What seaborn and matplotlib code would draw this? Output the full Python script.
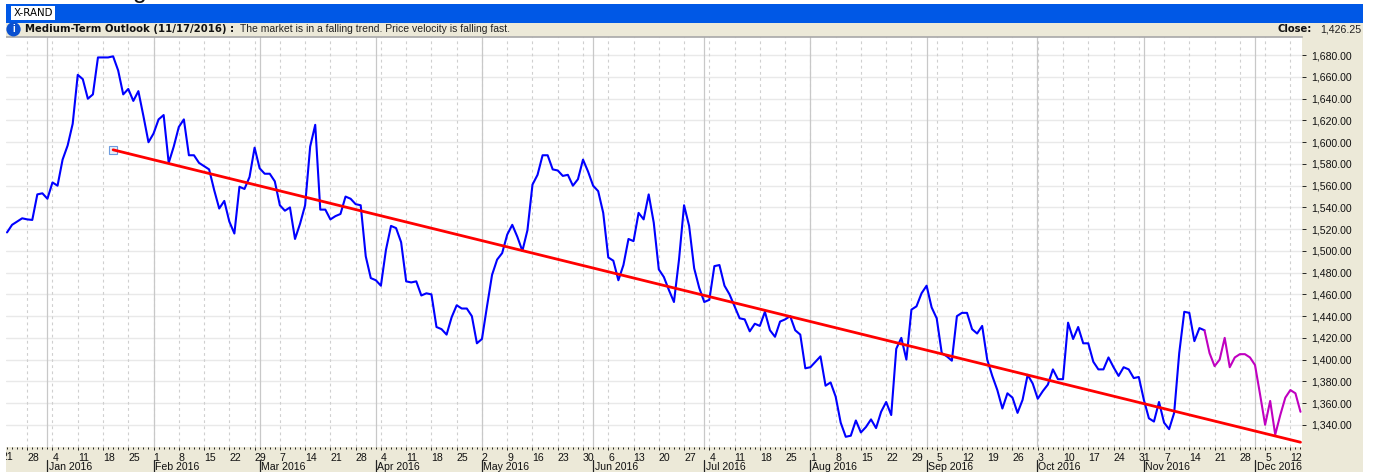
import numpy as np
import pandas as pd
import matplotlib
matplotlib.use('Agg')
import matplotlib.pyplot as plt
import seaborn as sns
from matplotlib.patches import Rectangle

# closes per session, session 0 = Mon 4 Jan 2016
first_session = -9
blue_close = [
    1517, 1524, 1527, 1530, 1529, 1528.5, 1552, 1553, 1548,
    1563, 1560, 1584, 1597, 1617, 1662, 1658, 1640, 1644, 1678,
    1678, 1678, 1679, 1666, 1644, 1649, 1638, 1647, 1624, 1600,
    1608, 1621, 1625, 1581, 1596, 1614, 1621, 1588, 1588, 1581,
    1578, 1575, 1556, 1539, 1546, 1527, 1516, 1559, 1557, 1568,
    1595, 1576, 1571, 1571, 1564, 1542, 1537, 1540, 1511, 1525,
    1542, 1596, 1616, 1538, 1538, 1529, 1532, 1534, 1550, 1548,
    1543, 1542, 1495, 1475, 1473, 1468, 1501, 1523, 1521, 1508,
    1472, 1471, 1472, 1459, 1461, 1460, 1430, 1428, 1423, 1439,
    1450, 1447, 1447, 1440, 1415, 1419, 1449, 1478, 1492, 1498,
    1515, 1524, 1513, 1500, 1519, 1561, 1570, 1588, 1588, 1575,
    1574, 1569, 1570, 1560, 1566, 1584, 1573, 1560, 1555, 1535,
    1494, 1491, 1473, 1487, 1511, 1509, 1535, 1529, 1552, 1526,
    1483, 1476, 1464, 1453, 1492, 1542, 1523, 1484, 1466, 1453,
    1455, 1486, 1487, 1468, 1460, 1449, 1438, 1437, 1426, 1433,
    1431, 1444, 1427, 1421, 1435, 1437, 1440, 1427, 1423, 1392,
    1393, 1398, 1403, 1376, 1379, 1366, 1342, 1329, 1330, 1344,
    1333, 1338, 1345, 1337, 1352, 1361, 1349, 1410, 1420, 1400,
    1446, 1449, 1461, 1468, 1448, 1438, 1406, 1403, 1399, 1440,
    1443, 1443, 1428, 1424, 1431, 1400, 1385, 1372, 1355, 1369,
    1365, 1351, 1363, 1386, 1378, 1364, 1371, 1377, 1391, 1382,
    1382, 1434, 1419, 1430, 1415, 1415, 1398, 1391, 1391, 1402,
    1393, 1385, 1393, 1391, 1383, 1384, 1363, 1346, 1343, 1361,
    1342, 1336, 1351, 1406, 1444, 1443, 1417, 1429, 1427,
]
magenta_close = [
    1427, 1406, 1394, 1400, 1420, 1393, 1402, 1405, 1405, 1402,
    1395, 1368, 1340, 1362, 1331, 1349, 1365, 1372, 1369, 1352,
]
trend_sessions = [12, 247]
trend_values = [1593, 1324]

price_ticks = list(range(1340, 1681, 20))
week_labels = ['28', '4', '11', '18', '25', '1', '8', '15', '22', '29', '7', '14', '21', '28',
               '4', '11', '18', '25', '2', '9', '16', '23', '30', '6', '13', '20', '27',
               '4', '11', '18', '25', '1', '8', '15', '22', '29', '5', '12', '19', '26',
               '3', '10', '17', '24', '31', '7', '14', '21', '28', '5', '12']
month_labels = ['Jan 2016', 'Feb 2016', 'Mar 2016', 'Apr 2016', 'May 2016', 'Jun 2016',
                'Jul 2016', 'Aug 2016', 'Sep 2016', 'Oct 2016', 'Nov 2016', 'Dec 2016']
month_sessions = [-1, 20, 41, 64, 85, 107, 129, 150, 173, 194.8, 216, 238]

W, H = 1375, 472
TAN = '#ECE9D8'

sns.set_theme(style='white')
plt.rcParams['font.family'] = ['Liberation Sans', 'DejaVu Sans']


def fx(px):
    return px / W


def fy(py):
    return 1 - py / H


fig = plt.figure(figsize=(W / 100, H / 100), dpi=100, facecolor='white')

# window chrome
fig.add_artist(Rectangle((fx(6), fy(472)), 1357 / W, 450 / H, transform=fig.transFigure,
                         fc=TAN, ec='none', zorder=-2))
fig.add_artist(Rectangle((fx(6), fy(22.5)), 1357 / W, 18.5 / H, transform=fig.transFigure,
                         fc='#0058E6', ec='none', zorder=-1))

ax = fig.add_axes([fx(6), fy(447), 1296 / W, 410 / H], facecolor='white')

sessions = np.arange(first_session, first_session + len(blue_close))
df_blue = pd.DataFrame({'session': sessions, 'close': blue_close})
df_magenta = pd.DataFrame({'session': np.arange(sessions[-1], sessions[-1] + len(magenta_close)),
                           'close': magenta_close})
df_trend = pd.DataFrame({'session': trend_sessions, 'close': trend_values})

sns.lineplot(data=df_blue, x='session', y='close', color='#0000FF', lw=1.5, estimator=None, ax=ax, zorder=3)
sns.lineplot(data=df_magenta, x='session', y='close', color='#C000C0', lw=1.5, estimator=None, ax=ax, zorder=3)
sns.lineplot(data=df_trend, x='session', y='close', color='#FF0000', lw=2, estimator=None, ax=ax, zorder=4)
ax.plot(trend_sessions[0], trend_values[0], marker='s', ms=5.2, mfc='#E8EEF8', mec='#6C9BE0', mew=0.8, zorder=3.5)

ax.set_xlim(-9.2, 247.3)
ax.set_ylim(1319.6, 1696.8)
ax.set_xlabel('')
ax.set_ylabel('')

# weekly ticks, one dot per session
week_sessions = [-5 + 5 * i for i in range(len(week_labels))]
ax.set_xticks(week_sessions)
ax.set_xticklabels(week_labels, ha='left', fontsize=7.6, color='#111111')
ax.set_xticks(np.arange(-9, 248), minor=True)
ax.tick_params(axis='x', which='major', length=2.4, width=0.7, pad=2, color='#222222', bottom=True)
ax.tick_params(axis='x', which='minor', length=1.2, width=0.7, color='#222222', bottom=True)

ax.yaxis.tick_right()
ax.set_yticks(price_ticks)
ax.set_yticklabels([f'{v:,.2f}' for v in price_ticks], fontsize=7.6, color='#111111')
ax.tick_params(axis='y', length=3, width=0.7, pad=3.6, color='#222222', right=True)

ax.grid(False)
for v in price_ticks:
    ax.axhline(v, color='#E9E9E9', lw=1, zorder=1)
for s in week_sessions:
    ax.axvline(s, color='#CFCFCF', lw=0.8, ls=(0, (2.5, 3)), zorder=1)
for s in month_sessions:
    ax.axvline(s, color='#C8C8C8', lw=0.9, zorder=1.5)

for side in ['left', 'right', 'bottom']:
    ax.spines[side].set_visible(False)
ax.spines['top'].set_color('#A8A8A8')
ax.spines['top'].set_linewidth(1.2)

# month row under the week labels
trans = ax.get_xaxis_transform()
for s, lab in zip(month_sessions, month_labels):
    ax.plot([s, s], [-0.032, -0.062], transform=trans, color='#222222', lw=0.9, clip_on=False)
    ax.text(s + 0.3, -0.05, lab, transform=trans, fontsize=7.6, color='#111111', va='center', ha='left')
ax.text(-10, -0.024, '21', transform=trans, fontsize=7.6, color='#111111', va='center', ha='left')
fig.add_artist(Rectangle((0, 0), fx(6), 1, transform=fig.transFigure, fc='white', ec='none', zorder=5))

# header texts
fig.text(fx(33), fy(13.2), 'X-RAND', fontsize=7.4, family='DejaVu Sans', color='black', ha='center', va='center',
         bbox=dict(boxstyle='square,pad=0.22', fc='white', ec='none'))
fig.text(fx(13.5), fy(29.3), 'i', fontsize=7, fontweight='bold', color='white', ha='center', va='center',
         bbox=dict(boxstyle='circle,pad=0.22', fc='#0A50D0', ec='none'))
fig.text(fx(25), fy(29.5), 'Medium-Term Outlook (11/17/2016) :', fontsize=7.3, fontweight='bold',
         family='DejaVu Sans', color='#111111', va='center')
fig.text(fx(240), fy(29.5), 'The market is in a falling trend. Price velocity is falling fast.', fontsize=7.5,
         family='Liberation Sans', color='#222222', va='center')
fig.text(fx(1278), fy(29.5), 'Close:', fontsize=7.2, fontweight='bold', family='DejaVu Sans', color='#111111', va='center')
fig.text(fx(1361), fy(29.5), '1,426.25', fontsize=7.7, color='#222222', va='center', ha='right')
fig.text(fx(140), fy(-2), 'g', fontsize=18, color='#111111', ha='center', va='baseline')

fig.savefig('out.png', dpi=100, facecolor='white')
